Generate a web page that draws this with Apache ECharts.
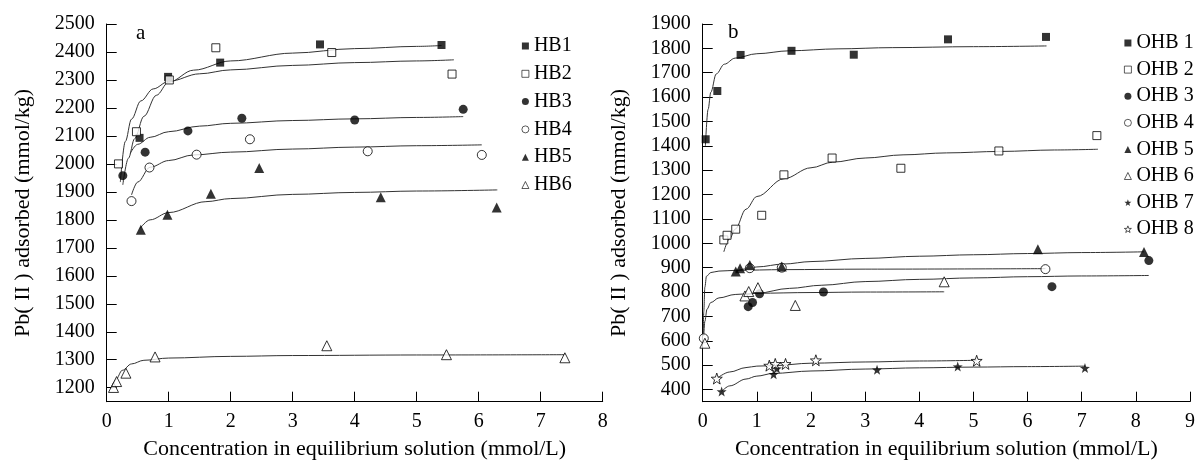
<!DOCTYPE html>
<html>
<head>
<meta charset="utf-8">
<script src="https://cdn.jsdelivr.net/npm/echarts@6/dist/echarts.min.js"></script>
<style>
html,body{margin:0;padding:0;background:#fff;}
#chart{width:1198px;height:466px;}
</style>
</head>
<body>
<div id="chart"></div>
<script>
// ---------- Panel a (HB) : measured points ----------
const HB1_x = [0.53, 0.99, 1.83, 3.44, 5.40];
const HB1_y = [2093, 2311, 2362, 2427, 2425];
const HB2_x = [0.19, 0.48, 1.01, 1.76, 3.63, 5.57];
const HB2_y = [2000, 2115, 2300, 2415, 2398, 2321];
const HB3_x = [0.26, 0.62, 1.31, 2.18, 4.00, 5.75];
const HB3_y = [1958, 2042, 2118, 2163, 2157, 2195];
const HB4_x = [0.40, 0.69, 1.45, 2.31, 4.21, 6.05];
const HB4_y = [1867, 1987, 2033, 2088, 2045, 2032];
const HB5_x = [0.55, 0.98, 1.68, 2.46, 4.42, 6.29];
const HB5_y = [1765, 1818, 1893, 1985, 1881, 1844];
const HB6_x = [0.11, 0.16, 0.31, 0.78, 3.55, 5.48, 7.39];
const HB6_y = [1201, 1222, 1252, 1310, 1350, 1318, 1307];

// ---------- Panel a : fitted curves ----------
const HB1_fx = [0.26, 0.35, 0.45, 0.6, 0.8, 1.0, 1.4, 2, 3, 4, 5, 5.4];
const HB1_fy = [1925, 2020, 2090, 2170, 2245, 2292, 2335, 2368, 2396, 2412, 2420, 2423];
const HB2_fx = [0.22, 0.3, 0.4, 0.55, 0.75, 1.0, 1.5, 2, 3, 4, 5, 5.6];
const HB2_fy = [1935, 2080, 2160, 2225, 2268, 2295, 2322, 2336, 2352, 2362, 2368, 2372];
const HB3_fx = [0.38, 0.5, 0.7, 1.0, 1.5, 2, 3, 4, 5, 5.75];
const HB3_fy = [2038, 2070, 2095, 2115, 2135, 2145, 2155, 2161, 2166, 2169];
const HB4_fx = [0.4, 0.5, 0.7, 1.0, 1.4, 2, 3, 4, 5, 6.05];
const HB4_fy = [1889, 1935, 1988, 2012, 2032, 2042, 2053, 2060, 2065, 2068];
const HB5_fx = [0.54, 0.7, 1.0, 1.6, 2, 3, 4, 5, 6.3];
const HB5_fy = [1770, 1800, 1826, 1865, 1876, 1891, 1898, 1903, 1907];
const HB6_fx = [0.08, 0.15, 0.25, 0.4, 0.6, 1.0, 2, 3, 5, 7.4];
const HB6_fy = [1195, 1230, 1262, 1285, 1298, 1306, 1312, 1315, 1317, 1318];

// ---------- Panel b (OHB) : measured points ----------
const OHB1_x = [0.055, 0.27, 0.70, 1.64, 2.79, 4.53, 6.34];
const OHB1_y = [1427, 1625, 1773, 1790, 1774, 1837, 1847];
const OHB2_x = [0.39, 0.45, 0.61, 1.09, 1.50, 2.39, 3.66, 5.47, 7.28];
const OHB2_y = [1014, 1033, 1058, 1115, 1281, 1350, 1308, 1379, 1442];
const OHB3_x = [0.84, 0.92, 1.05, 2.23, 6.45, 8.24];
const OHB3_y = [740, 757, 793, 800, 822, 929];
const OHB4_x = [0.02, 0.87, 1.46, 6.33];
const OHB4_y = [610, 898, 900, 894];
const OHB5_x = [0.61, 0.69, 0.87, 1.46, 6.19, 8.15];
const OHB5_y = [884, 898, 911, 905, 976, 964];
const OHB6_x = [0.04, 0.78, 0.85, 1.02, 1.71, 4.46];
const OHB6_y = [590, 784, 802, 818, 745, 842];
const OHB7_x = [0.35, 1.31, 1.37, 3.22, 4.71, 7.06];
const OHB7_y = [392, 463, 486, 481, 494, 488];
const OHB8_x = [0.26, 1.23, 1.34, 1.53, 2.09, 5.06];
const OHB8_y = [445, 498, 505, 505, 520, 518];

// ---------- Panel b : fitted curves ----------
const OHB1_fx = [0.05, 0.1, 0.15, 0.25, 0.4, 0.6, 1, 1.6, 2.5, 3.5, 5, 6.35];
const OHB1_fy = [1400, 1550, 1620, 1695, 1735, 1760, 1778, 1790, 1798, 1803, 1807, 1810];
const OHB2_fx = [0.39, 0.5, 0.6, 0.8, 1.0, 1.5, 2, 2.4, 3, 3.7, 4.5, 5.5, 6.5, 7.3];
const OHB2_fy = [965, 1020, 1058, 1140, 1192, 1265, 1310, 1333, 1350, 1363, 1371, 1377, 1383, 1386];
const OHB3_fx = [0.8, 1.0, 1.6, 2.2, 3, 4, 5, 6, 7, 8.24];
const OHB3_fy = [788, 795, 815, 828, 843, 852, 858, 863, 866, 868];
const OHB4_fx = [0.01, 0.02, 0.04, 0.07, 0.15, 0.3, 0.6, 1.5, 3, 6.33];
const OHB4_fy = [620, 720, 820, 865, 880, 886, 889, 892, 894, 896];
const OHB5_fx = [0.6, 0.8, 1, 1.5, 2, 3, 4, 5, 6, 7, 8.15];
const OHB5_fy = [885, 895, 903, 915, 925, 938, 947, 953, 958, 962, 965];
const OHB6_fx = [0.02, 0.04, 0.08, 0.15, 0.3, 0.6, 1, 2, 3, 4.46];
const OHB6_fy = [620, 680, 730, 757, 776, 790, 795, 798, 800, 801];
const OHB7_fx = [0.35, 0.5, 0.8, 1, 1.3, 2, 3, 4, 5, 6, 7.06];
const OHB7_fy = [392, 415, 443, 455, 466, 476, 484, 489, 492, 494, 496];
const OHB8_fx = [0.26, 0.5, 0.8, 1, 1.3, 2, 3, 4, 5.06];
const OHB8_fy = [445, 472, 490, 496, 498, 508, 513, 517, 520];

// ---------- Tick labels ----------
const leftYTicks = [1200, 1300, 1400, 1500, 1600, 1700, 1800, 1900, 2000, 2100, 2200, 2300, 2400, 2500];
const rightYTicks = [400, 500, 600, 700, 800, 900, 1000, 1100, 1200, 1300, 1400, 1500, 1600, 1700, 1800, 1900];
const leftNames = ['HB1', 'HB2', 'HB3', 'HB4', 'HB5', 'HB6'];
const rightNames = ['OHB 1', 'OHB 2', 'OHB 3', 'OHB 4', 'OHB 5', 'OHB 6', 'OHB 7', 'OHB 8'];
const xTitle = 'Concentration in equilibrium solution (mmol/L)';
const yTitle = 'Pb( II ) adsorbed (mmol/kg)';

// ---------- helpers ----------
const FONT = "'Liberation Serif', 'Times New Roman', serif";
const STAR = 'path://M0,-10 L2.35,-3.24 L9.51,-3.09 L3.8,1.24 L5.88,8.09 L0,4 L-5.88,8.09 L-3.8,1.24 L-9.51,-3.09 L-2.35,-3.24 Z';
function zip(xs, ys) { return xs.map((x, i) => [x, ys[i]]); }
const FILLED = {color: '#000', borderColor: '#000', borderWidth: 0};
const OPEN = {color: '#fff', borderColor: '#000', borderWidth: 1};
const marks = [
  {symbol: 'rect', size: 8, style: FILLED},
  {symbol: 'rect', size: 8, style: OPEN},
  {symbol: 'circle', size: 9, style: FILLED},
  {symbol: 'circle', size: 9, style: OPEN},
  {symbol: 'triangle', size: 10, style: FILLED},
  {symbol: 'triangle', size: 10, style: OPEN},
  {symbol: STAR, size: 10, style: FILLED},
  {symbol: STAR, size: 11, style: OPEN}
];

const leftPts = [[HB1_x, HB1_y], [HB2_x, HB2_y], [HB3_x, HB3_y], [HB4_x, HB4_y], [HB5_x, HB5_y], [HB6_x, HB6_y]];
const leftFit = [[HB1_fx, HB1_fy], [HB2_fx, HB2_fy], [HB3_fx, HB3_fy], [HB4_fx, HB4_fy], [HB5_fx, HB5_fy], [HB6_fx, HB6_fy]];
const rightPts = [[OHB1_x, OHB1_y], [OHB2_x, OHB2_y], [OHB3_x, OHB3_y], [OHB4_x, OHB4_y], [OHB5_x, OHB5_y], [OHB6_x, OHB6_y], [OHB7_x, OHB7_y], [OHB8_x, OHB8_y]];
const rightFit = [[OHB1_fx, OHB1_fy], [OHB2_fx, OHB2_fy], [OHB3_fx, OHB3_fy], [OHB4_fx, OHB4_fy], [OHB5_fx, OHB5_fy], [OHB6_fx, OHB6_fy], [OHB7_fx, OHB7_fy], [OHB8_fx, OHB8_fy]];

const series = [];
function addPanel(names, pts, fits, axisIdx) {
  names.forEach((n, i) => {
    series.push({
      name: n + ' fit', type: 'line', xAxisIndex: axisIdx, yAxisIndex: axisIdx,
      data: zip(fits[i][0], fits[i][1]), showSymbol: false, symbol: 'none',
      smooth: 0.35, smoothMonotone: 'x', silent: true, z: 2,
      lineStyle: {color: '#333', width: 1}
    });
  });
  names.forEach((n, i) => {
    const m = marks[i];
    series.push({
      name: n, type: 'scatter', xAxisIndex: axisIdx, yAxisIndex: axisIdx,
      data: zip(pts[i][0], pts[i][1]), symbol: m.symbol, symbolSize: m.size,
      itemStyle: Object.assign({}, m.style), z: 5
    });
  });
}
addPanel(leftNames, leftPts, leftFit, 0);
addPanel(rightNames, rightPts, rightFit, 1);

function xAxisCfg(gridIndex, max) {
  return {
    type: 'value', gridIndex: gridIndex, min: 0, max: max, interval: 1,
    name: xTitle, nameLocation: 'middle', nameGap: 37,
    nameTextStyle: {fontFamily: FONT, fontSize: 22, color: '#000'},
    axisLine: {show: true, onZero: false, lineStyle: {color: '#000', width: 1}},
    axisTick: {show: true, inside: true, length: 10, lineStyle: {color: '#000'}},
    axisLabel: {fontFamily: FONT, fontSize: 20, color: '#000', margin: 10},
    splitLine: {show: false}
  };
}
function yAxisCfg(gridIndex, min, max, ticks) {
  return {
    type: 'value', gridIndex: gridIndex, min: min, max: max, interval: 50,
    name: yTitle, nameLocation: 'middle', nameGap: 72,
    nameTextStyle: {fontFamily: FONT, fontSize: 22, color: '#000'},
    axisLine: {show: true, onZero: false, lineStyle: {color: '#000', width: 1}},
    axisTick: {show: true, inside: true, length: 10, customValues: ticks, lineStyle: {color: '#000'}},
    axisLabel: {fontFamily: FONT, fontSize: 20, color: '#000', margin: 12, customValues: ticks,
                formatter: v => String(v)},
    splitLine: {show: false}
  };
}

function legendCfg(names, left, top, gap, pad) {
  return {
    data: names.map((n, i) => ({
      name: n, icon: marks[i].symbol,
      itemStyle: Object.assign({}, marks[i].style, {borderWidth: marks[i].style === OPEN ? 0.8 : 0})
    })),
    orient: 'vertical', left: left, top: top, itemGap: gap,
    itemWidth: 7, itemHeight: 7, selectedMode: false,
    textStyle: {fontFamily: FONT, fontSize: 20, lineHeight: 20, color: '#000', padding: [0, 0, 0, pad]}
  };
}

const option = {
  animation: false,
  backgroundColor: '#fff',
  title: [
    {text: 'a', left: 131, top: 18, textStyle: {fontFamily: FONT, fontSize: 21, fontWeight: 'normal', color: '#000'}},
    {text: 'b', left: 723, top: 17, textStyle: {fontFamily: FONT, fontSize: 21, fontWeight: 'normal', color: '#000'}}
  ],
  legend: [
    legendCfg(leftNames, 516.5, 31, 7.8, 0),
    legendCfg(rightNames, 1119, 28, 6.6, 0)
  ],
  grid: [
    {left: 106.7, top: 24, width: 496, height: 377.7, containLabel: false},
    {left: 702.7, top: 24, width: 490.5, height: 377.7, containLabel: false}
  ],
  xAxis: [xAxisCfg(0, 8), xAxisCfg(1, 9)],
  yAxis: [yAxisCfg(0, 1150, 2500, leftYTicks), yAxisCfg(1, 350, 1900, rightYTicks)],
  series: series
};

const chart = echarts.init(document.getElementById('chart'), null, {renderer: 'canvas'});
chart.setOption(option);
</script>
</body>
</html>
